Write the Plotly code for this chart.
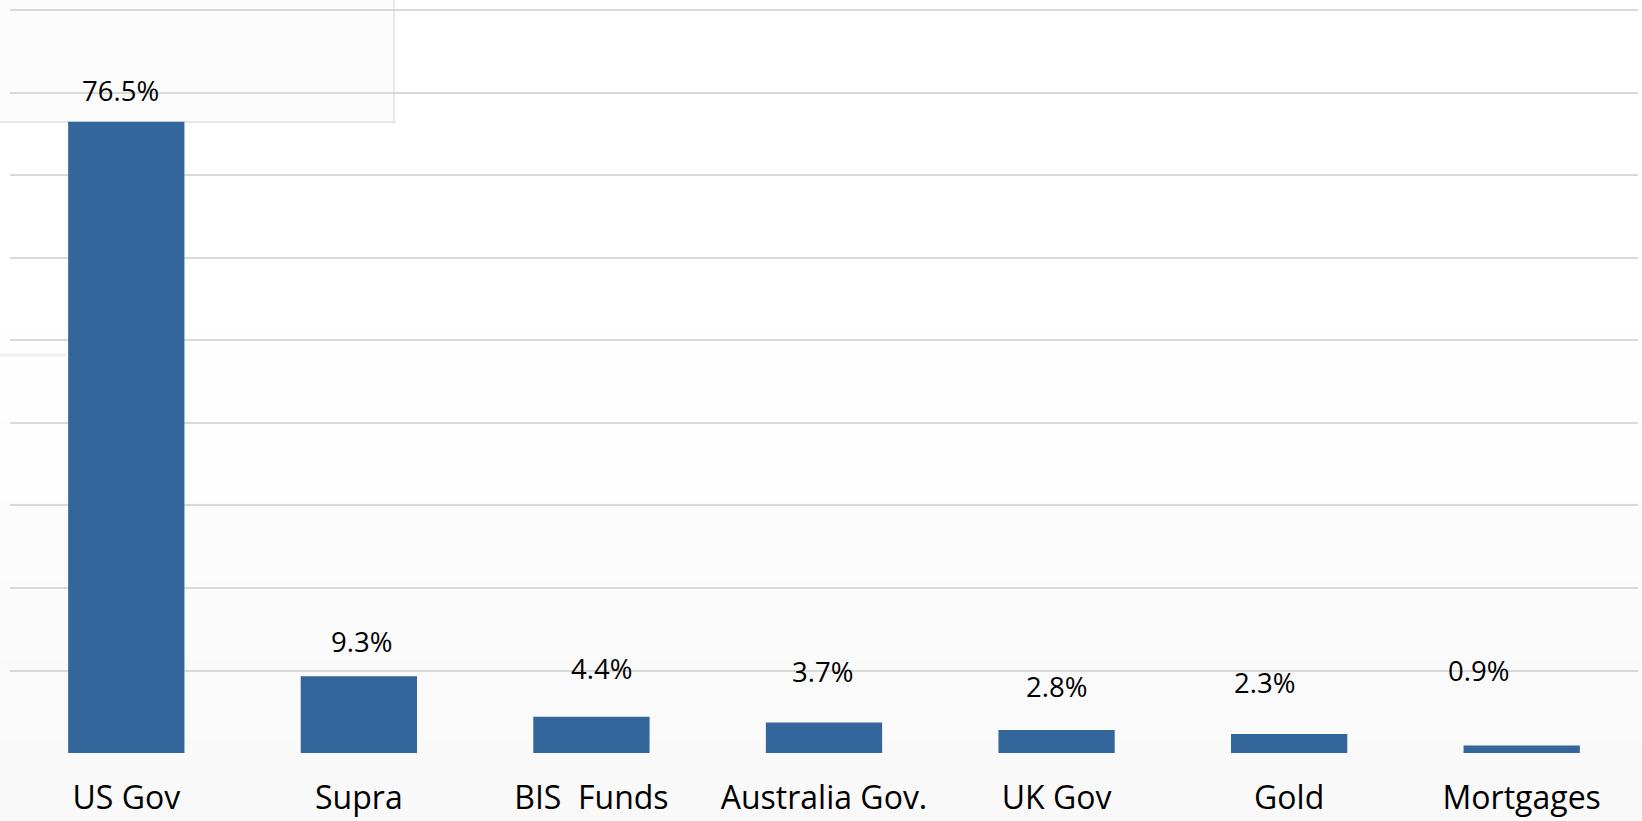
import plotly.graph_objects as go

# Reserve holdings by asset class (share of total, %)
categories = ["US Gov", "Supra", "BIS  Funds", "Australia Gov.", "UK Gov", "Gold", "Mortgages"]
shares = [76.5, 9.3, 4.4, 3.7, 2.8, 2.3, 0.9]

# Pixel nudges for the value labels, relative to each bar top
label_dx = [-6, 3, 10, -2, 0, -25, -43]
label_dy = [31, 35, 48, 51, 43, 52, 75]

W, H = 1642, 821
M_L, M_R, M_T, M_B = 10, 4, 8, 68
BAR_COLOR = "#33669A"
GRID_COLOR = "#d9d9d9"
FONT = "Open Sans"

plot_h = H - M_T - M_B


def py(px):
    """Figure pixel row -> paper y coordinate."""
    return (H - M_B - px) / plot_h


def px_x(px):
    return (px - M_L) / (W - M_L - M_R)


fig = go.Figure()
fig.add_trace(go.Bar(
    x=categories,
    y=shares,
    marker=dict(color=BAR_COLOR, line=dict(width=0)),
    hoverinfo="skip",
))

shapes = []
# soft vertical shading of the background, white at the top to light grey below
bands = [(330, "#fefefe"), (420, "#fdfdfd"), (500, "#fcfcfc"), (580, "#fbfbfb"), (660, "#fafafa"), (740, "#f9f9f9")]
for i, (top, col) in enumerate(bands):
    bottom = bands[i + 1][0] if i + 1 < len(bands) else H
    shapes.append(dict(type="rect", xref="paper", yref="paper", layer="below",
                       x0=px_x(0), x1=px_x(W), y0=py(bottom), y1=py(top),
                       fillcolor=col, line=dict(width=0)))
# faint panel edges in the upper left corner
shapes.append(dict(type="rect", xref="paper", yref="paper", layer="below",
                   x0=px_x(0), x1=px_x(394), y0=py(122), y1=py(0),
                   fillcolor="#fcfcfc", line=dict(width=0)))
shapes.append(dict(type="line", xref="paper", yref="paper", layer="below",
                   x0=px_x(394), x1=px_x(394), y0=py(124), y1=py(0),
                   line=dict(color="#e8e8e8", width=2)))
shapes.append(dict(type="line", xref="paper", yref="paper", layer="below",
                   x0=px_x(0), x1=px_x(394), y0=py(122), y1=py(122),
                   line=dict(color="#e8e8e8", width=2)))
shapes.append(dict(type="line", xref="paper", yref="paper", layer="below",
                   x0=px_x(0), x1=px_x(66), y0=py(355), y1=py(355),
                   line=dict(color="#efefef", width=3)))

annotations = []
for cat, v, dx, dy in zip(categories, shares, label_dx, label_dy):
    annotations.append(dict(
        x=cat, y=v, xref="x", yref="y",
        text=f"{v:.1f}%", showarrow=False,
        xanchor="center", yanchor="middle",
        xshift=dx, yshift=dy,
        font=dict(family=FONT, size=27.5, color="#000000"),
    ))

fig.update_layout(
    width=W, height=H,
    margin=dict(l=M_L, r=M_R, t=M_T, b=M_B, pad=0),
    paper_bgcolor="#ffffff",
    plot_bgcolor="rgba(0,0,0,0)",
    bargap=0.5,
    showlegend=False,
    shapes=shapes,
    annotations=annotations,
    font=dict(family=FONT, color="#000000"),
)
fig.update_xaxes(
    showgrid=False, showline=False, zeroline=False, automargin=False,
    ticks="", tickfont=dict(family=FONT, size=32, color="#000000"),
    ticklabelstandoff=23,
)
fig.update_yaxes(
    range=[0, 90.3], dtick=10, tick0=0, automargin=False,
    showgrid=True, gridcolor=GRID_COLOR, gridwidth=2,
    zeroline=False, showline=False, showticklabels=False, ticks="",
)

fig.write_html("out.html")
